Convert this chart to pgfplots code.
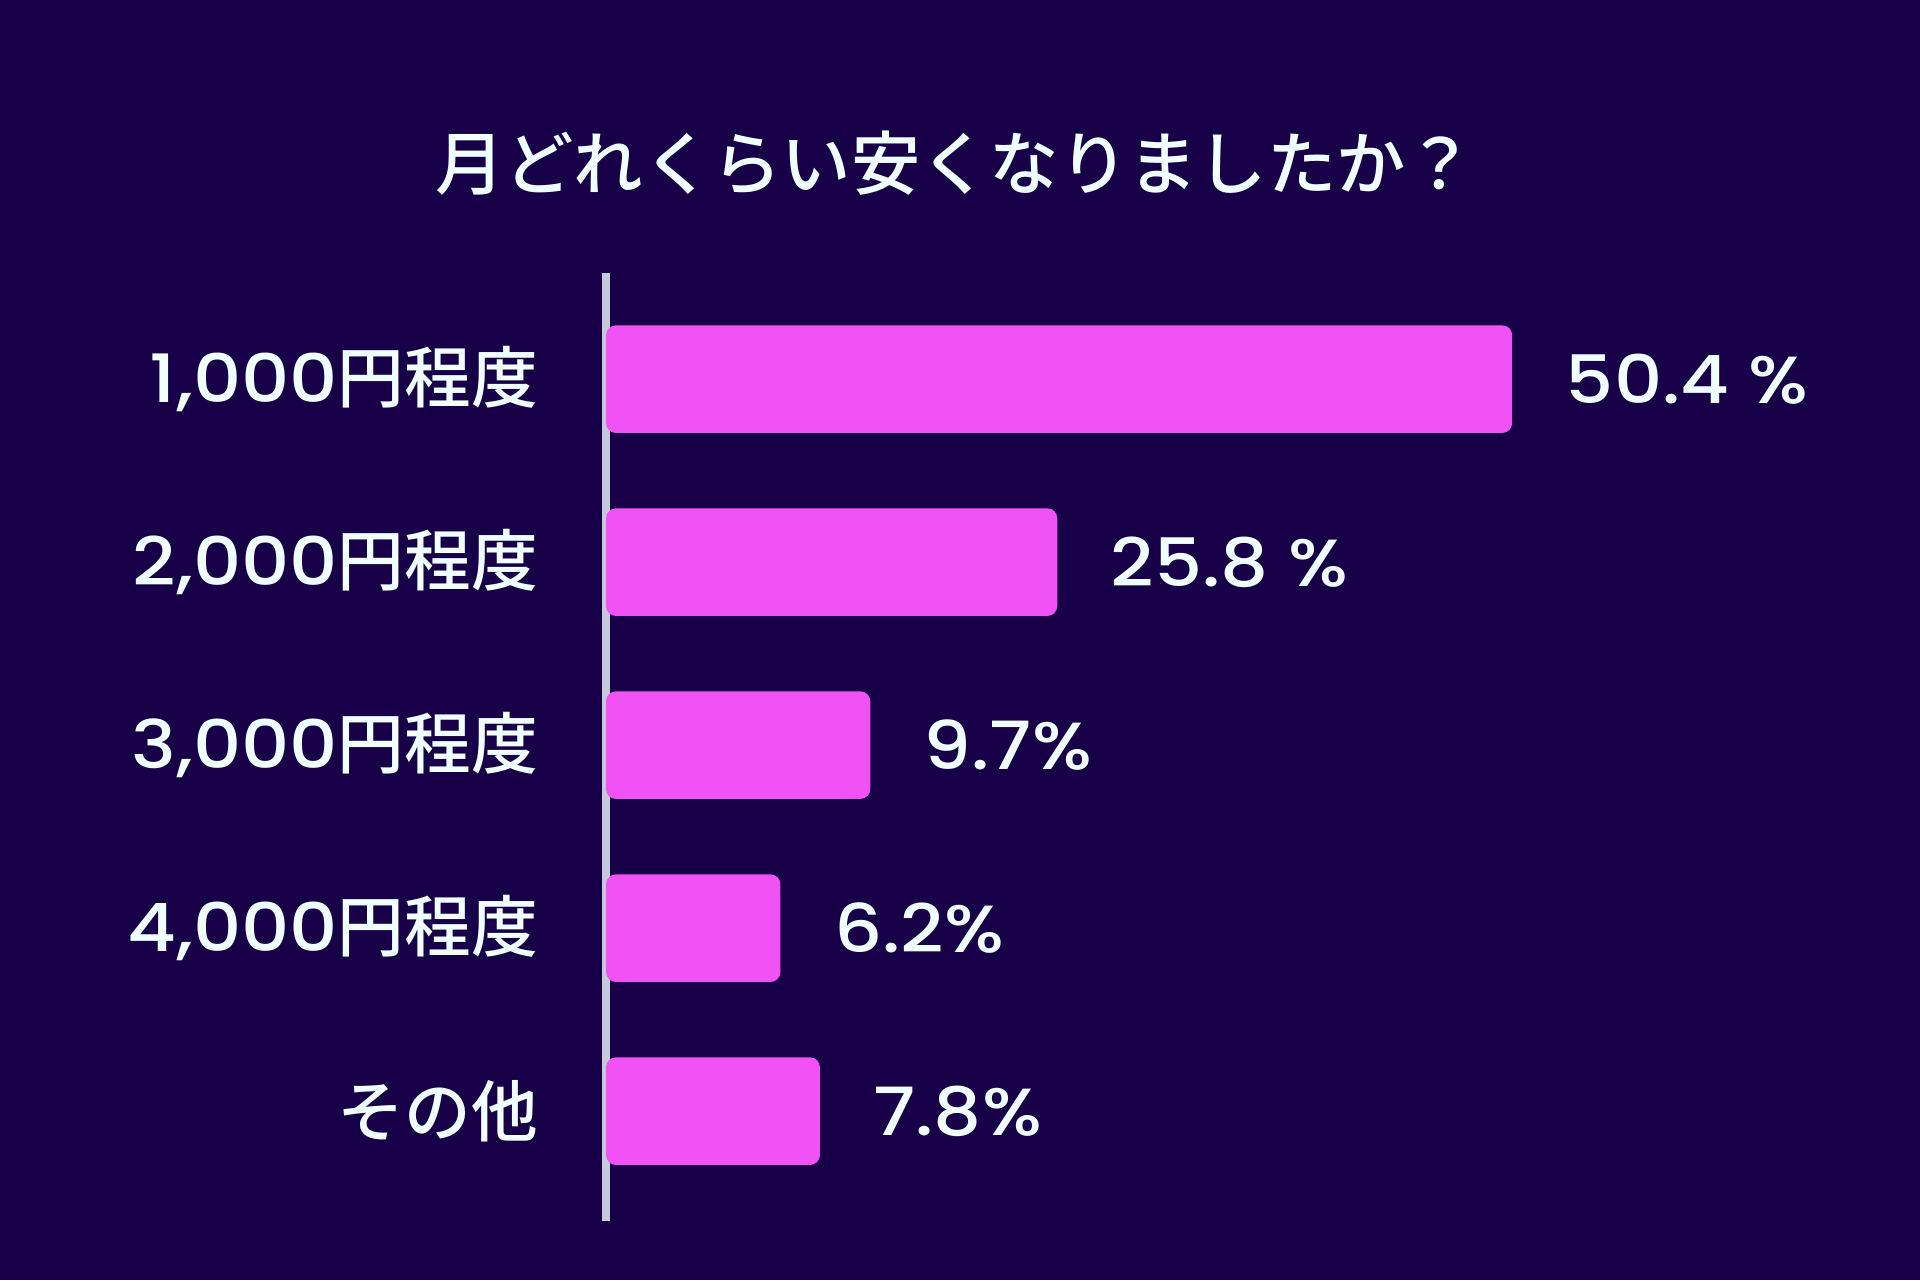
\documentclass[border=0pt]{standalone}
\usepackage{pgfplots}
\pgfplotsset{compat=1.18}
\usepackage{fontspec}
\setmainfont{Poppins}[UprightFont=* Medium, FakeStretch=1.13]
\newfontfamily\jp{Noto Sans CJK JP}[UprightFont=* Medium]
\definecolor{bg}{HTML}{170047}
\definecolor{barc}{HTML}{F052F5}
\definecolor{linegray}{HTML}{C5C9DA}
\definecolor{txt}{HTML}{F0FFFF}
\begin{document}
\begin{tikzpicture}
\fill[bg] (0,0) rectangle (576pt,384pt);
\useasboundingbox (0,0) rectangle (576pt,384pt);
\node[text=txt, font=\jp\fontsize{20.8}{24}\selectfont, anchor=center] at (286.5pt,335.1pt) {月どれくらい安くなりましたか？};
\begin{axis}[
  at={(181.8pt,302.1pt)}, anchor=north west,
  x=5.394pt, y=54.9pt, y dir=reverse,
  xmin=0, xmax=70, ymin=-0.58, ymax=4.6,
  axis x line=none, axis y line=left,
  y axis line style={draw=linegray, line width=2.4pt, -},
  ytick={0,1,2,3,4},
  yticklabels={{1,000{\jp 円程度}},{2,000{\jp 円程度}},{3,000{\jp 円程度}},{4,000{\jp 円程度}},{{\jp その他}}},
  major tick length=0pt,
  yticklabel style={font=\fontsize{20}{24}\selectfont, text=txt, inner sep=0pt, anchor=east, xshift=-20.2pt},
  xbar, bar width=32.3pt,
  nodes near coords, point meta=explicit symbolic,
  nodes near coords style={font=\fontsize{20}{24}\selectfont, text=txt, anchor=west, inner sep=0pt, xshift=15.9pt},
  clip=false,
]
\addplot[fill=barc, draw=none, rounded corners=3pt] coordinates {
  (50.4,0) [50.4 \%]
  (25.1,1) [25.8 \%]
  (14.7,2) [9.7\%]
  (9.7,3) [6.2\%]
  (11.9,4) [7.8\%]
};
\end{axis}
\end{tikzpicture}
\end{document}
